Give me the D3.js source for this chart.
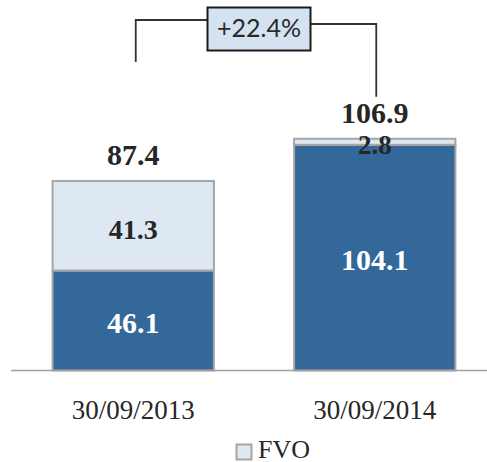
<!DOCTYPE html>
<html><head><meta charset="utf-8">
<script src="https://cdn.jsdelivr.net/npm/d3@7"></script>
<style>body{margin:0;background:#fff}svg{display:block}</style>
</head><body>
<svg id="chart" width="487" height="462"></svg>
<script>
const categories = ["30/09/2013", "30/09/2014"];
const baseValues = [46.1, 104.1];
const fvoValues = [41.3, 2.8];
const totals = [87.4, 106.9];
const growthLabel = "+22.4%";
const legendLabels = ["FVO"];

const svg = d3.select("#chart");
const baseline = 370.5;
const y = d3.scaleLinear().domain([0, 100]).range([baseline, baseline - 216.8]);
const x = d3.scaleBand().domain(categories).range([12.5, 495.5]).paddingInner(0.332).paddingOuter(0.166);

const dark = "#34679a", light = "#dde8f3", edge = "#a6a6a6", txt = "#262626";
const serif = "'Liberation Serif', 'Times New Roman', serif";

const rows = categories.map((c, i) => ({c, base: baseValues[i], fvo: fvoValues[i], total: totals[i]}));

// bars
const g = svg.append("g");
rows.forEach(r => {
  g.append("rect").attr("x", x(r.c)).attr("width", x.bandwidth())
    .attr("y", y(r.base)).attr("height", y(0) - y(r.base))
    .attr("fill", dark).attr("stroke", edge).attr("stroke-width", 2);
  g.append("rect").attr("x", x(r.c)).attr("width", x.bandwidth())
    .attr("y", y(r.base + r.fvo)).attr("height", y(r.base) - y(r.base + r.fvo))
    .attr("fill", light).attr("stroke", edge).attr("stroke-width", 2);
});

// axis line
svg.append("line").attr("x1", 11).attr("x2", 487).attr("y1", baseline).attr("y2", baseline)
  .attr("stroke", "#a0a0a0").attr("stroke-width", 1.6);

// labels
function label(xc, yc, text, size, color) {
  svg.append("text").attr("x", xc).attr("y", yc + 0.34 * size)
    .attr("text-anchor", "middle").attr("font-family", serif).attr("font-weight", "bold")
    .attr("font-size", size).attr("fill", color).text(text);
}
rows.forEach((r, i) => {
  const cx = x(r.c) + x.bandwidth() / 2;
  label(cx, (y(0) + y(r.base)) / 2 + 2, r.base.toFixed(1), 30, "#ffffff");
  const fc = (y(r.base) + y(r.base + r.fvo)) / 2 + (i === 1 ? 3 : 4);
  label(cx, fc, r.fvo.toFixed(1), i === 1 ? 27 : 28, txt);
  label(cx, y(r.total) - 26, r.total.toFixed(1), 30, txt);
});

// x axis labels
const xAxis = d3.axisBottom(x).tickSize(0).tickPadding(0);
const ax = svg.append("g").attr("transform", `translate(0,${baseline})`).call(xAxis);
ax.select(".domain").remove();
ax.selectAll("text").attr("font-family", serif).attr("font-size", 27).attr("fill", txt)
  .attr("dy", null).attr("y", 48);

// growth bracket
const c0 = x(categories[0]) + x.bandwidth() / 2 + 2.5;
const c1 = x(categories[1]) + x.bandwidth() / 2 + 1.5;
const boxX = 207.5, boxW = 103, boxY = 7.5, boxH = 43;
svg.append("path").attr("d", `M${c0},${y(totals[0]) - 119}V20H${boxX}`)
  .attr("fill", "none").attr("stroke", "#333").attr("stroke-width", 1.8);
svg.append("path").attr("d", `M${boxX + boxW},24H${c1}V${y(totals[1]) - 42}`)
  .attr("fill", "none").attr("stroke", "#333").attr("stroke-width", 1.8);
svg.append("rect").attr("x", boxX).attr("y", boxY).attr("width", boxW).attr("height", boxH)
  .attr("fill", "#d5e3f1").attr("stroke", "#1a1a1a").attr("stroke-width", 2);
svg.append("text").attr("x", boxX + boxW / 2).attr("y", 36.5).attr("text-anchor", "middle")
  .attr("font-family", "Lato, 'Open Sans', sans-serif").attr("font-size", 25).attr("fill", "#2a2a2a")
  .text(growthLabel);

// legend
const lg = svg.append("g");
lg.append("rect").attr("x", 236.5).attr("y", 444.5).attr("width", 15).attr("height", 15)
  .attr("fill", light).attr("stroke", edge).attr("stroke-width", 2);
lg.append("text").attr("x", 258).attr("y", 457.5).attr("font-family", serif).attr("font-size", 26)
  .attr("fill", txt).text(legendLabels[0]);
</script>
</body></html>
